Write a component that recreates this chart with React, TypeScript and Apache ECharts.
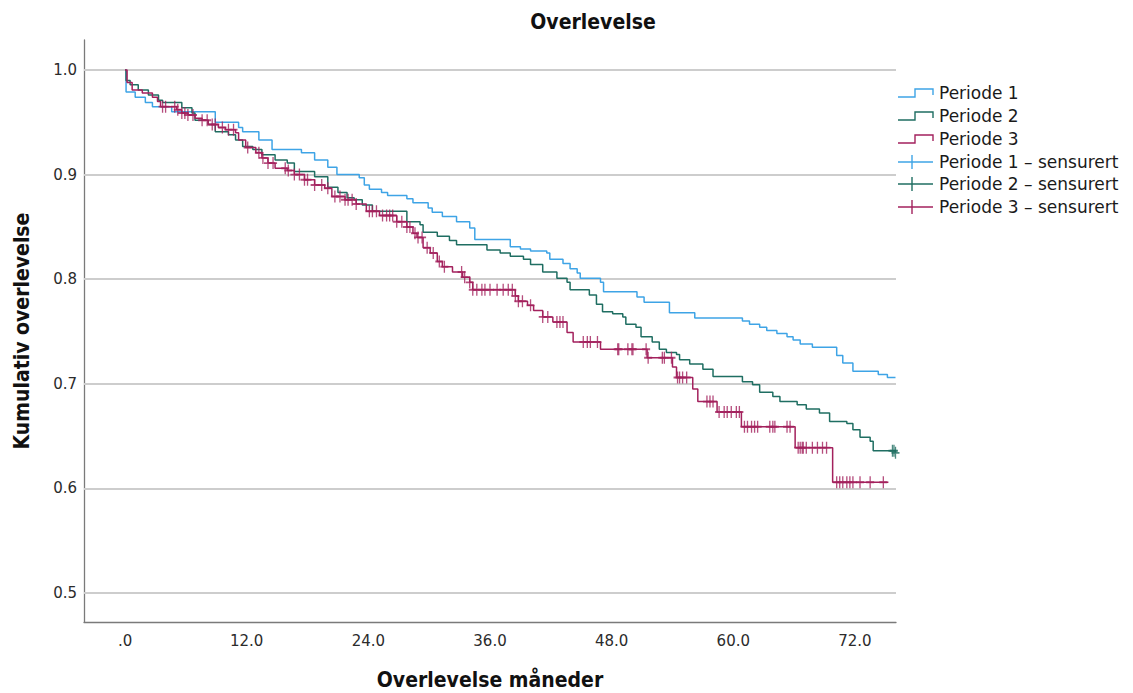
import React, { useEffect, useRef } from 'react';
import * as echarts from 'echarts';

// ---- tick labels ----
const yTicks = [0.5, 0.6, 0.7, 0.8, 0.9, 1.0];
const xTicks = [0, 12, 24, 36, 48, 60, 72];

// ---- Periode 1 (time in months, cumulative survival after the step) ----
const p1Times = [0, 0.1, 1.0, 2.0, 2.7, 4.6, 8.9, 11.2, 11.6, 13.2, 14.5, 17.4, 18.7, 20.0, 20.9, 23.1, 23.6, 24.1, 25.3, 25.9, 27.8, 28.4, 29.9, 30.3, 31.3, 32.7, 34.0, 34.5, 38.0, 39.0, 40.0, 41.6, 41.9, 43.2, 43.9, 44.6, 44.9, 46.9, 47.2, 50.5, 51.2, 53.7, 56.2, 60.9, 61.6, 62.6, 63.3, 64.3, 65.3, 65.9, 66.6, 67.8, 70.2, 70.8, 71.8, 74.3, 75.2, 76.0];
const p1Surv = [1.0, 0.979, 0.974, 0.969, 0.965, 0.960, 0.950, 0.945, 0.941, 0.933, 0.924, 0.921, 0.914, 0.907, 0.900, 0.897, 0.890, 0.886, 0.883, 0.880, 0.877, 0.873, 0.868, 0.864, 0.860, 0.855, 0.849, 0.838, 0.831, 0.829, 0.827, 0.825, 0.819, 0.815, 0.810, 0.806, 0.801, 0.797, 0.788, 0.783, 0.778, 0.768, 0.763, 0.760, 0.757, 0.754, 0.751, 0.748, 0.745, 0.742, 0.738, 0.735, 0.727, 0.720, 0.712, 0.709, 0.706, 0.706];
const p1Censored: number[] = [];

// ---- Periode 2 ----
const p2Times = [0, 0.1, 0.5, 1.3, 2.3, 3.3, 3.7, 5.6, 6.6, 6.9, 8.2, 8.9, 10.2, 10.9, 11.6, 12.6, 13.5, 14.8, 16.0, 16.7, 18.7, 20.0, 21.0, 21.9, 22.6, 23.4, 24.4, 27.8, 29.1, 29.4, 30.8, 32.0, 32.7, 35.7, 37.0, 38.0, 39.3, 40.0, 41.2, 42.6, 43.6, 43.9, 45.8, 46.5, 47.1, 48.1, 49.1, 49.4, 50.4, 50.9, 52.0, 52.7, 53.4, 54.4, 54.7, 55.7, 57.0, 58.0, 60.9, 61.9, 62.6, 63.9, 64.6, 66.3, 67.2, 68.5, 69.5, 71.2, 71.8, 72.5, 73.5, 73.8, 76.0];
const p2Surv = [1.0, 0.990, 0.986, 0.981, 0.976, 0.971, 0.969, 0.964, 0.959, 0.952, 0.948, 0.941, 0.938, 0.933, 0.927, 0.924, 0.919, 0.914, 0.911, 0.903, 0.898, 0.888, 0.883, 0.878, 0.876, 0.871, 0.865, 0.855, 0.852, 0.845, 0.841, 0.837, 0.833, 0.828, 0.825, 0.822, 0.819, 0.814, 0.807, 0.801, 0.797, 0.790, 0.785, 0.776, 0.769, 0.767, 0.764, 0.757, 0.754, 0.745, 0.740, 0.733, 0.730, 0.728, 0.723, 0.719, 0.714, 0.707, 0.702, 0.699, 0.692, 0.688, 0.683, 0.680, 0.676, 0.672, 0.664, 0.662, 0.656, 0.649, 0.645, 0.636, 0.634];
const p2Censored = [75.7, 75.85, 76.0];

// ---- Periode 3 ----
const p3Times = [0, 0.2, 0.7, 1.7, 2.7, 3.2, 3.5, 5.1, 5.6, 6.2, 6.9, 7.6, 8.2, 9.2, 9.9, 10.9, 11.2, 11.9, 12.9, 13.5, 14.1, 14.8, 16.0, 16.7, 17.7, 18.7, 19.7, 20.4, 21.7, 22.8, 23.8, 25.1, 26.8, 27.8, 28.4, 28.8, 29.4, 30.1, 30.8, 31.3, 32.3, 33.3, 34.0, 34.3, 38.5, 38.8, 39.7, 40.3, 41.2, 42.2, 43.6, 44.2, 46.9, 51.5, 54.0, 54.4, 56.0, 56.5, 58.4, 60.8, 66.1, 69.8, 75.3];
const p3Surv = [1.0, 0.988, 0.981, 0.978, 0.974, 0.970, 0.965, 0.962, 0.959, 0.957, 0.954, 0.952, 0.948, 0.945, 0.943, 0.940, 0.933, 0.926, 0.921, 0.916, 0.911, 0.906, 0.904, 0.900, 0.895, 0.890, 0.887, 0.879, 0.876, 0.872, 0.865, 0.861, 0.855, 0.850, 0.844, 0.840, 0.830, 0.825, 0.817, 0.812, 0.807, 0.802, 0.797, 0.790, 0.784, 0.779, 0.775, 0.770, 0.764, 0.759, 0.749, 0.740, 0.733, 0.725, 0.716, 0.706, 0.695, 0.683, 0.673, 0.659, 0.639, 0.606, 0.606];
const p3Censored = [3.7, 4.0, 4.9, 5.2, 5.6, 5.9, 6.2, 6.7, 7.6, 8.1, 8.6, 8.9, 9.6, 10.2, 10.7, 12.1, 13.2, 13.6, 14.1, 14.6, 15.8, 16.1, 16.7, 17.2, 17.7, 18.0, 18.7, 19.4, 20.0, 20.7, 21.2, 21.7, 22.0, 22.4, 22.8, 24.1, 24.4, 24.8, 25.4, 25.8, 26.1, 26.4, 26.8, 27.3, 27.8, 28.1, 28.6, 28.9, 29.3, 29.8, 30.4, 31.0, 31.5, 33.2, 33.5, 34.0, 34.3, 34.7, 35.2, 35.5, 36.0, 36.7, 37.3, 37.8, 38.2, 38.5, 38.8, 39.2, 40.0, 41.2, 41.7, 42.6, 42.9, 43.2, 45.2, 45.6, 45.9, 46.6, 48.6, 48.7, 49.6, 50.0, 50.1, 51.4, 51.6, 53.0, 53.2, 53.9, 54.5, 54.7, 55.0, 55.4, 57.4, 57.7, 58.0, 58.6, 59.1, 59.4, 59.8, 60.3, 60.6, 61.1, 61.4, 61.8, 62.1, 62.4, 63.6, 63.9, 64.1, 65.3, 65.6, 66.4, 66.6, 66.8, 66.9, 67.2, 67.8, 68.3, 68.8, 69.2, 70.2, 70.5, 70.8, 71.2, 71.5, 71.8, 72.5, 73.5, 74.8];

const seriesNames = ['Periode 1', 'Periode 2', 'Periode 3'];
const censorNames = ['Periode 1 \u2013 sensurert', 'Periode 2 \u2013 sensurert', 'Periode 3 \u2013 sensurert'];
const colors = ['#3ea4e6', '#1f6e62', '#a3215d'];

function survAt(times: number[], surv: number[], t: number): number {
  let s = surv[0];
  for (let i = 0; i < times.length; i++) {
    if (times[i] <= t) s = surv[i];
  }
  return s;
}

const FONT = '"DejaVu Sans", "Liberation Sans", sans-serif';
const TITLE_FONT = '"DejaVu Sans Condensed", "DejaVu Sans", sans-serif';

export default function App() {
  const ref = useRef<HTMLDivElement>(null);

  useEffect(() => {
    if (!ref.current) return;
    const chart = echarts.init(ref.current, undefined, { renderer: 'svg' });

    const curves = [
      { t: p1Times, s: p1Surv, c: p1Censored },
      { t: p2Times, s: p2Surv, c: p2Censored },
      { t: p3Times, s: p3Surv, c: p3Censored },
    ];

    const censorSymbol = 'path://M0,5L10,5M5,0L5,10';

    const series: any[] = [];
    curves.forEach((cv, i) => {
      const line: any = {
        type: 'line',
        name: seriesNames[i],
        step: 'end',
        showSymbol: false,
        symbol: 'none',
        z: 3 + i,
        lineStyle: { color: colors[i], width: 1.5 },
        itemStyle: { color: colors[i] },
        data: cv.t.map((t, k) => [t, cv.s[k]]),
      };
      if (i === 0) {
        line.markLine = {
          silent: true,
          z: 1,
          symbol: ['none', 'none'],
          label: { show: false },
          lineStyle: { color: '#cdcdcd', width: 1.8, type: 'solid' },
          data: yTicks.map((v) => ({ yAxis: v })),
        };
      }
      series.push(line);
    });
    curves.forEach((cv, i) => {
      series.push({
        type: 'scatter',
        name: censorNames[i],
        symbol: censorSymbol,
        symbolSize: [8, 12],
        z: 6 + i,
        itemStyle: { color: 'rgba(0,0,0,0)', borderColor: colors[i], borderWidth: 1.6 },
        data: cv.c.map((t) => [t, survAt(cv.t, cv.s, t)]),
      });
    });

    const legendRows = [93, 116, 139, 162, 184, 207];
    const legendEls: any[] = [];
    legendRows.forEach((cy, r) => {
      const ci = r % 3;
      if (r < 3) {
        legendEls.push({
          type: 'polyline',
          shape: { points: [[898, cy + 4], [915, cy + 4], [915, cy - 4], [933, cy - 4], [933, cy + 2]] },
          style: { stroke: colors[ci], lineWidth: 1.4, fill: null },
        });
      } else {
        legendEls.push({
          type: 'line',
          shape: { x1: 898, y1: cy, x2: 933, y2: cy },
          style: { stroke: colors[ci], lineWidth: 1.4 },
        });
        legendEls.push({
          type: 'line',
          shape: { x1: 912, y1: cy - 7, x2: 912, y2: cy + 7 },
          style: { stroke: colors[ci], lineWidth: 1.4 },
        });
      }
      legendEls.push({
        type: 'text',
        x: 939,
        y: cy,
        style: {
          text: r < 3 ? seriesNames[ci] : censorNames[ci],
          fill: '#1a1a1a',
          font: `17px ${FONT}`,
          verticalAlign: 'middle',
          align: 'left',
        },
      });
    });

    chart.setOption({
      animation: false,
      backgroundColor: '#ffffff',
      grid: { left: 84, right: 237, top: 40, bottom: 71, containLabel: false },
      xAxis: {
        type: 'value',
        min: -4.05,
        max: 76.05,
        axisLine: { show: true, onZero: false, lineStyle: { color: '#7a7a7a', width: 1.3 } },
        axisTick: { show: false },
        splitLine: { show: false },
        axisLabel: {
          customValues: xTicks,
          formatter: (v: number) => (v === 0 ? '.0' : v.toFixed(1)),
          color: '#2b2b2b',
          fontSize: 15,
          fontFamily: FONT,
          margin: 11,
        },
      },
      yAxis: {
        type: 'value',
        min: 0.4723,
        max: 1.0287,
        axisLine: { show: true, onZero: false, lineStyle: { color: '#7a7a7a', width: 1.3 } },
        axisTick: { show: false },
        splitLine: { show: false },
        axisLabel: {
          customValues: yTicks,
          formatter: (v: number) => v.toFixed(1),
          color: '#2b2b2b',
          fontSize: 15,
          fontFamily: FONT,
          margin: 7,
        },
      },
      series,
      graphic: [
        {
          type: 'text',
          x: 593,
          y: 22,
          style: { text: 'Overlevelse', font: `bold 21px ${TITLE_FONT}`, fill: '#111', align: 'center', verticalAlign: 'middle' },
        },
        {
          type: 'text',
          x: 22,
          y: 331,
          rotation: Math.PI / 2,
          style: { text: 'Kumulativ overlevelse', font: `bold 21px ${TITLE_FONT}`, fill: '#111', align: 'center', verticalAlign: 'middle' },
        },
        {
          type: 'text',
          x: 490,
          y: 680,
          style: { text: 'Overlevelse m\u00e5neder', font: `bold 21px ${TITLE_FONT}`, fill: '#111', align: 'center', verticalAlign: 'middle' },
        },
        { type: 'group', children: legendEls },
      ],
    });

    return () => chart.dispose();
  }, []);

  return (
    <div
      ref={ref}
      style={{ position: 'absolute', left: 0, top: 0, width: 1133, height: 693, background: '#fff' }}
    />
  );
}
